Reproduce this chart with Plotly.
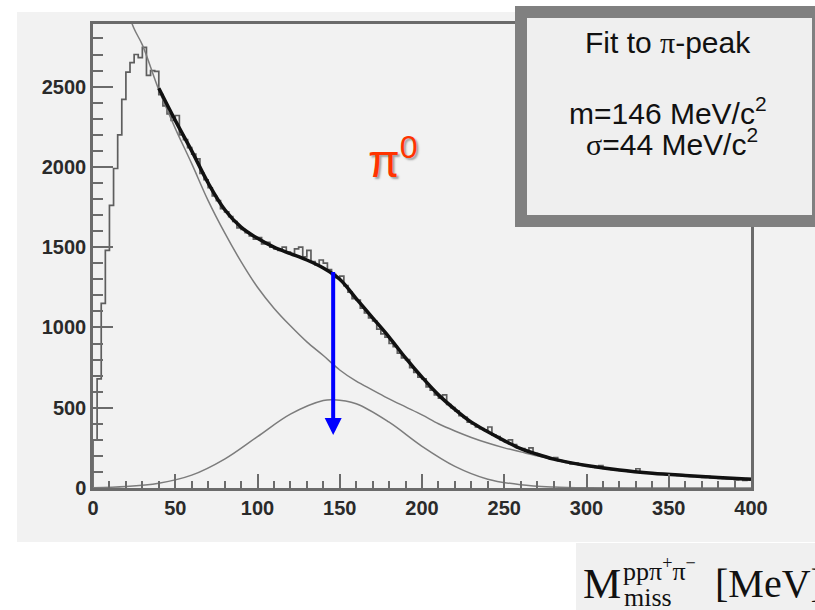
import plotly.graph_objects as go

# ---------------- data ----------------
bin_width = 2.5  # MeV
hist_counts = [
    300, 680, 1150, 1480, 1760, 1990, 2200, 2420, 2590, 2650,
    2700, 2680, 2745, 2570, 2600, 2595, 2450, 2380, 2330, 2290,
    2320, 2200, 2170, 2120, 2080, 2050, 1960, 1920, 1870, 1820,
    1790, 1740, 1720, 1690, 1660, 1620, 1610, 1590, 1570, 1550,
    1560, 1520, 1530, 1500, 1490, 1480, 1500, 1470, 1460, 1490,
    1500, 1440, 1480, 1410, 1390, 1420, 1400, 1360, 1330, 1310,
    1320, 1260, 1220, 1180, 1170, 1120, 1090, 1060, 1040, 990,
    960, 940, 900, 880, 840, 810, 800, 750, 720, 690,
    680, 630, 610, 580, 560, 580, 520, 500, 480, 450,
    440, 410, 400, 380, 370, 360, 380, 330, 320, 300,
    290, 300, 270, 250, 245, 230, 250, 215, 205, 200,
    190, 180, 190, 170, 165, 160, 150, 155, 145, 140,
    138, 133, 128, 140, 122, 118, 115, 112, 110, 105,
    103, 100, 120, 96, 94, 92, 90, 88, 86, 84,
    82, 80, 78, 76, 74, 72, 75, 68, 66, 72,
    64, 70, 60, 58, 56, 62, 50, 54, 48, 58,
]

fit_x = [40, 50, 60, 70, 80, 90, 100, 110, 120, 130, 140, 150, 160, 170, 180,
         190, 200, 210, 220, 230, 240, 250, 260, 270, 280, 290, 300, 320, 340,
         360, 380, 400]
fit_total = [2490, 2290, 2100, 1900, 1735, 1625, 1555, 1500, 1460, 1420, 1370,
             1300, 1180, 1060, 940, 810, 690, 580, 490, 410, 350, 295, 245, 210,
             180, 158, 140, 112, 92, 78, 66, 55]

bkg_x = [20, 25, 30, 40, 50, 60, 70, 80, 90, 100, 110, 120, 130, 140, 150, 160,
         170, 180, 190, 200, 210, 220, 230, 240, 250, 260, 270, 280, 290, 300,
         320, 340, 360, 380, 400]
bkg_y = [3000, 2860, 2760, 2480, 2240, 2020, 1790, 1590, 1410, 1250, 1120, 1010,
         910, 825, 735, 665, 610, 555, 505, 455, 400, 355, 315, 280, 250, 225,
         200, 180, 160, 140, 112, 92, 78, 66, 55]

gauss_x = [0, 20, 40, 60, 80, 100, 120, 140, 146, 160, 180, 200, 220, 240, 260,
           280, 300, 350, 400]
gauss_y = [2, 9, 30, 80, 180, 320, 460, 545, 550, 525, 410, 260, 135, 55, 20,
           6, 1, 0, 0]

x_tick_vals = [0, 50, 100, 150, 200, 250, 300, 350, 400]
y_tick_vals = [0, 500, 1000, 1500, 2000, 2500]

peak_mass = 146
arrow_top, arrow_tip = 1354, 330

# ---------------- layout geometry ----------------
W, H = 815, 610
L, R, T, B = 93, 751, 24, 488


def px(x):
    return (x - L) / (R - L)


def py(y):
    return (B - y) / (B - T)


edges = [i * bin_width for i in range(len(hist_counts) + 1)]
step_x = [0] + edges
step_y = [0] + hist_counts + [hist_counts[-1]]

fig = go.Figure()
fig.add_trace(go.Scatter(x=step_x, y=step_y, mode="lines", line_shape="hv",
                         line=dict(color="#5e5e5e", width=1.7), hoverinfo="skip"))
fig.add_trace(go.Scatter(x=gauss_x, y=gauss_y, mode="lines", line_shape="spline",
                         line=dict(color="#7c7c7c", width=1.5), hoverinfo="skip"))
fig.add_trace(go.Scatter(x=bkg_x, y=bkg_y, mode="lines", line_shape="spline",
                         line=dict(color="#7c7c7c", width=1.5), hoverinfo="skip"))
fig.add_trace(go.Scatter(x=fit_x, y=fit_total, mode="lines", line_shape="spline",
                         line=dict(color="#111111", width=3.5), hoverinfo="skip"))

tickfont = dict(family="Liberation Sans", size=20, color="#2a2a2a", weight="bold")
axcol = "#6b6b6b"

fig.update_xaxes(range=[0, 400], tickvals=x_tick_vals, ticks="inside", ticklen=14,
                 tickwidth=2, tickcolor=axcol, showline=True, linecolor=axcol,
                 linewidth=2.5, mirror=True, showgrid=False, zeroline=False,
                 tickfont=tickfont,
                 minor=dict(dtick=10, ticks="inside", ticklen=7, tickwidth=2,
                            tickcolor=axcol, showgrid=False))
fig.update_yaxes(range=[0, 2890], tickvals=y_tick_vals, ticks="inside", ticklen=20,
                 tickwidth=2, tickcolor=axcol, showline=True, linecolor=axcol,
                 linewidth=2.5, mirror=True, showgrid=False, zeroline=False,
                 tickfont=tickfont,
                 minor=dict(dtick=100, ticks="inside", ticklen=10, tickwidth=2,
                            tickcolor=axcol, showgrid=False))

shapes = [
    # grey canvas panel
    dict(type="rect", xref="paper", yref="paper", x0=px(17), x1=px(830),
         y0=py(542), y1=py(12), fillcolor="#f2f2f2", line=dict(width=0),
         layer="below"),
    # fit-result box
    dict(type="rect", xref="paper", yref="paper", x0=px(521), x1=px(818),
         y0=py(221), y1=py(12), fillcolor="#efefef",
         line=dict(color="#808080", width=12), layer="above"),
    # axis-title box
    dict(type="rect", xref="paper", yref="paper", x0=px(576), x1=px(830),
         y0=py(620), y1=py(543), fillcolor="#f0f0f0", line=dict(width=0),
         layer="above"),
]

boxfont = dict(family="Liberation Sans", size=30, color="#111111")
serif_span = '<span style="font-family:Liberation Serif">'
annotations = [
    dict(xref="paper", yref="paper", x=px(668), y=py(43), xanchor="center",
         yanchor="middle", showarrow=False, font=boxfont,
         text="Fit to " + serif_span + "π</span>-peak"),
    dict(xref="paper", yref="paper", x=px(668), y=py(111), xanchor="center",
         yanchor="middle", showarrow=False, font=boxfont,
         text="m=146 MeV/c<sup>2</sup>"),
    dict(xref="paper", yref="paper", x=px(672), y=py(142), xanchor="center",
         yanchor="middle", showarrow=False, font=boxfont,
         text=serif_span + "σ</span>=44 MeV/c<sup>2</sup>"),
    # pi0 label
    dict(xref="paper", yref="paper", x=px(393), y=py(158), xanchor="center",
         yanchor="middle", showarrow=False,
         font=dict(family="Liberation Sans", size=46, color="#ff3300",
                   shadow="2px 2px 2px #a0a0a0"),
         text="π<sup>0</sup>"),
    # arrow at the peak
    dict(x=peak_mass, y=arrow_tip, ax=peak_mass, ay=arrow_top, xref="x", yref="y",
         axref="x", ayref="y", text="", showarrow=True, arrowhead=2,
         arrowsize=0.85, arrowwidth=4, arrowcolor="#0000ff", standoff=0),
    # axis title  M_miss^{pp pi+ pi-} [MeV]
    dict(xref="paper", yref="paper", x=px(581), y=py(583), xanchor="left",
         yanchor="middle", showarrow=False,
         font=dict(family="Liberation Serif", size=43, color="#111111"), text="M"),
    dict(xref="paper", yref="paper", x=px(621), y=py(569), xanchor="left",
         yanchor="middle", showarrow=False,
         font=dict(family="Liberation Serif", size=26, color="#111111"),
         text="ppπ<sup>+</sup>π<sup>−</sup>"),
    dict(xref="paper", yref="paper", x=px(622), y=py(597), xanchor="left",
         yanchor="middle", showarrow=False,
         font=dict(family="Liberation Serif", size=26, color="#111111"),
         text="miss"),
    dict(xref="paper", yref="paper", x=px(713), y=py(583), xanchor="left",
         yanchor="middle", showarrow=False,
         font=dict(family="Liberation Serif", size=40, color="#111111"),
         text="[MeV]"),
]

fig.update_layout(width=W, height=H, margin=dict(l=L, r=W - R, t=T, b=H - B),
                  paper_bgcolor="white", plot_bgcolor="#f2f2f2",
                  showlegend=False, shapes=shapes, annotations=annotations)

fig.write_html("out.html")
